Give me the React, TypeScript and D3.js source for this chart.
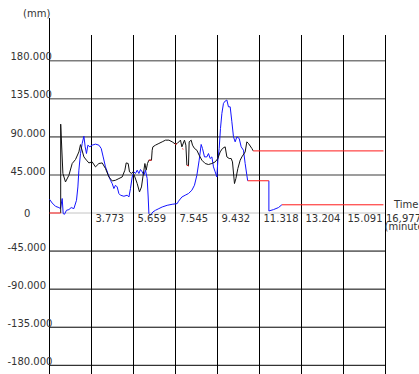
import * as d3 from 'd3';

// x axis runs from the first sample (1.886 min) to the end of the record
const X_MIN = 1.886;
const X_MAX = 16.977;
const xTickLabels = ['3.773', '5.659', '7.545', '9.432', '11.318', '13.204', '15.091', '16.977'];
const yTicks = [180, 135, 90, 45, 0, -45, -90, -135, -180];
const yTickLabels = ['180.000', '135.000', '90.000', '45.000', '0', '-45.000', '-90.000', '-135.000', '-180.000'];

// [time (minute), displacement (mm)]
const blackSeries: [number, number][] = [
  [2.389, 0], [2.389, 105.0], [2.488, 46.7], [2.604, 36.7], [2.757, 44.6], [2.905, 58.5],
  [3.054, 63.2], [3.206, 72.2], [3.278, 80.8], [3.431, 66.3], [3.547, 62.4], [3.655, 59.2],
  [3.803, 60.4], [3.952, 54.5], [4.104, 58.5], [4.253, 59.2], [4.401, 52.6], [4.553, 42.6],
  [4.702, 37.9], [4.850, 38.7], [5.002, 40.7], [5.151, 42.6], [5.272, 50.6], [5.330, 59.2],
  [5.420, 58.5], [5.479, 48.6], [5.568, 46.7], [5.631, 48.6], [5.721, 42.6], [5.824, 34.8],
  [5.928, 24.9], [6.017, 30.8], [6.080, 42.6], [6.170, 58.5], [6.228, 50.6], [6.287, 58.5],
  [6.350, 62.4], [6.466, 62.4], [6.498, 74.2], [6.529, 78.2], [6.646, 80.2], [6.799, 82.2],
  [6.947, 84.1], [7.095, 86.1], [7.248, 86.1], [7.396, 84.1], [7.544, 81.4], [7.621, 82.2],
  [7.769, 86.1], [7.832, 78.2], [7.948, 86.1], [8.011, 80.2], [8.056, 56.5], [8.128, 55.7],
  [8.159, 84.1], [8.249, 86.1], [8.308, 80.2], [8.397, 76.3], [8.505, 74.2], [8.608, 68.3],
  [8.730, 62.4], [8.878, 58.5], [9.026, 57.3], [9.179, 58.5], [9.327, 60.4], [9.448, 64.4],
  [9.551, 72.2], [9.655, 76.3], [9.776, 78.2], [9.852, 66.3], [9.956, 64.4], [10.046, 64.4],
  [10.104, 60.4], [10.194, 34.8], [10.257, 40.7], [10.346, 52.6], [10.450, 62.4], [10.526, 66.3],
  [10.674, 72.2], [10.750, 84.1], [10.822, 82.2], [10.975, 76.3], [11.033, 73.4],
];

const blueSeries: [number, number][] = [
  [1.886, 16.2], [2.007, 11.8], [2.155, 7.9], [2.308, 6.4], [2.380, 5.2], [2.456, 17.1],
  [2.501, -0.7], [2.560, -1.5], [2.649, 3.2], [2.757, 4.0], [2.860, 6.4], [2.982, 5.2],
  [3.098, 15.0], [3.161, 30.8], [3.206, 50.6], [3.278, 70.3], [3.354, 82.2], [3.431, 90.8],
  [3.489, 78.2], [3.547, 70.3], [3.610, 80.2], [3.700, 78.2], [3.803, 80.2], [3.952, 81.4],
  [4.104, 80.2], [4.208, 76.3], [4.297, 66.3], [4.401, 54.5], [4.509, 46.7], [4.625, 38.7],
  [4.702, 34.8], [4.778, 28.9], [4.850, 32.8], [4.926, 30.8], [5.002, 23.0], [5.074, 21.0],
  [5.227, 19.8], [5.375, 21.0], [5.452, 18.9], [5.523, 28.9], [5.600, 42.6], [5.676, 48.6],
  [5.748, 46.7], [5.824, 50.6], [5.901, 46.7], [5.972, 51.4], [6.049, 48.6], [6.125, 44.6],
  [6.197, 50.6], [6.273, 40.7], [6.318, 18.9], [6.350, -0.7], [6.421, -2.7], [6.529, 1.2],
  [6.646, 3.2], [6.799, 5.2], [6.947, 7.1], [7.171, 9.1], [7.396, 10.3], [7.621, 11.1],
  [7.679, 13.9], [7.832, 18.9], [7.980, 21.0], [8.128, 23.0], [8.280, 26.9], [8.397, 32.8],
  [8.505, 44.6], [8.608, 62.4], [8.698, 81.0], [8.757, 76.3], [8.847, 66.3], [8.954, 66.3],
  [9.026, 70.3], [9.102, 64.4], [9.179, 66.3], [9.251, 54.5], [9.327, 48.6], [9.403, 42.6],
  [9.448, 62.4], [9.507, 76.3], [9.565, 99.9], [9.628, 117.7], [9.700, 129.6], [9.776, 132.3],
  [9.852, 133.5], [9.924, 125.5], [10.001, 125.5], [10.077, 107.8], [10.149, 90.0], [10.225, 84.1],
  [10.302, 90.0], [10.405, 88.1], [10.495, 78.2], [10.598, 74.2], [10.674, 58.5], [10.750, 44.6],
  [10.787, 38.1],
];

const blueTail: [number, number][] = [
  [11.739, 38.1], [11.739, 2.4], [11.945, 4.0], [12.169, 6.4], [12.322, 9.7],
];

// red = held / missing samples
const redSegments: [number, number][][] = [
  [[1.886, 0], [2.389, 0]],
  [[6.350, 62.4], [6.466, 62.4]],
  [[7.520, 81.6], [7.600, 81.4]],
  [[7.850, 76.0], [7.900, 75.4]],
  [[8.056, 56.5], [8.128, 55.7]],
  [[10.787, 38.1], [11.739, 38.1]],
  [[11.033, 73.4], [16.885, 73.4]],
  [[12.322, 9.7], [16.885, 9.7]],
];

const width = 419;
const height = 374;
const font = 'DejaVu Sans, Verdana, sans-serif';

const App = () => {
  const x = d3.scaleLinear().domain([X_MIN, X_MAX]).range([49.5, 385.5]);
  const y = d3.scaleLinear().domain([-180, 180]).range([365.3, 60.7]);
  const line = d3.line<[number, number]>().x(d => x(d[0])).y(d => y(d[1]));

  const hStyle = (v: number) =>
    v > 0 ? { stroke: '#7c7c7c', w: 1.6 } : v === 0 ? { stroke: '#c4c4c4', w: 1 } : { stroke: '#000', w: 1 };

  return (
    <svg
      width={width}
      height={height}
      viewBox={`0 0 ${width} ${height}`}
      style={{ position: 'absolute', left: 0, top: 0, display: 'block', background: '#fff' }}
    >
      {/* horizontal grid */}
      {yTicks.map(v => {
        const s = hStyle(v);
        return (
          <line key={`h${v}`} x1={x(X_MIN)} x2={x(X_MAX)} y1={y(v)} y2={y(v)}
            stroke={s.stroke} strokeWidth={s.w} />
        );
      })}
      {/* vertical grid */}
      {xTickLabels.map(t => (
        <line key={`v${t}`} x1={x(+t)} x2={x(+t)} y1={35} y2={height}
          stroke="#000" strokeWidth={1} shapeRendering="crispEdges" />
      ))}
      <line x1={x(X_MIN)} x2={x(X_MIN)} y1={18} y2={height} stroke="#000" strokeWidth={1}
        shapeRendering="crispEdges" />

      {/* series */}
      <path d={line(blueSeries) ?? ''} fill="none" stroke="#1414ff" strokeWidth={1} />
      <path d={line(blueTail) ?? ''} fill="none" stroke="#1414ff" strokeWidth={1} />
      <path d={line(blackSeries) ?? ''} fill="none" stroke="#111" strokeWidth={1} />
      {redSegments.map((seg, i) => (
        <path key={`r${i}`} d={line(seg) ?? ''} fill="none" stroke="#ff1a1a" strokeWidth={1} />
      ))}

      {/* y labels */}
      {yTicks.map((v, i) => (
        <text key={`yl${v}`} x={v > 0 ? 10.5 : v < 0 ? 7.5 : 24}
          y={v === 0 ? y(v) + 4 : y(v) - 0.3}
          fontFamily={font} fontSize={10} fill="#333">
          {yTickLabels[i]}
        </text>
      ))}
      {/* x labels */}
      {xTickLabels.map((t, i) => (
        <text key={`xl${t}`} x={x(+t) + (i === xTickLabels.length - 1 ? 0.5 : 4)} y={222}
          fontFamily={font} fontSize={10} fill="#333">
          {t}
        </text>
      ))}

      <text x={23} y={17} fontFamily={font} fontSize={10} fill="#333">(mm)</text>
      <text x={394} y={208} fontFamily={font} fontSize={10} fill="#333">Time</text>
      <text x={384.5} y={229.5} fontFamily={font} fontSize={10} fill="#333">(minute)</text>
    </svg>
  );
};

export default App;
